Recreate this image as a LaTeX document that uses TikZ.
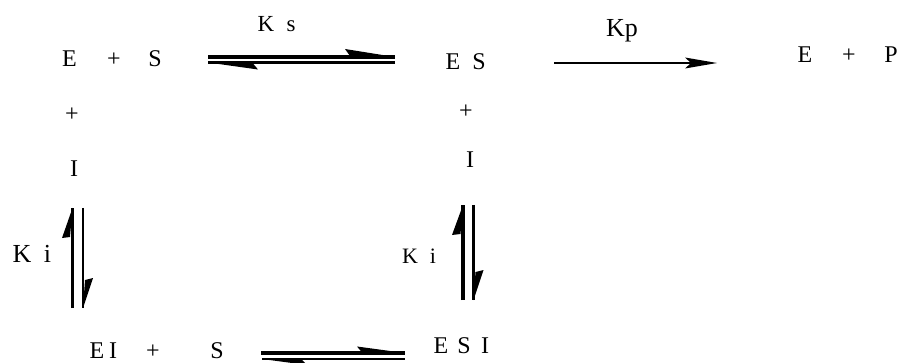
\documentclass[tikz,border=0pt]{standalone}
\usepackage{fontspec}
\setmainfont{Liberation Serif}
\usetikzlibrary{calc}
\begin{document}
\begin{tikzpicture}[x=1pt,y=-1pt,
  txt/.style={inner sep=0pt,anchor=base,font=\fontsize{24}{28}\selectfont},
  sz/.style={txt,font=\fontsize{#1}{#1}\selectfont},
  thick shaft/.style={line width=3.4pt},
  thin shaft/.style={line width=2.4pt}]
\useasboundingbox (0,0) rectangle (901,363);

% ---- species ----
\node[txt] (e1) at (69.5,67) {E};
\node[txt] (p1) at (114,67) {+};
\node[txt] (s1) at (155,67) {S};
\node[txt] (p2) at (72,122) {+};
\node[txt] (i1) at (74,177) {I};

\node[txt] (e2) at (453,70) {E};
\node[txt] (s2) at (479,70) {S};
\node[txt] (p3) at (466,119) {+};
\node[txt] (i2) at (470,168) {I};

\node[txt] (e3) at (805,63) {E};
\node[txt] (p4) at (849,63) {+};
\node[txt] (pp) at (891,63) {P};

\node[txt] (e4) at (97,358) {E};
\node[txt] (i3) at (113,358) {I};
\node[txt] (p5) at (153,358) {+};
\node[txt] (s3) at (217,358) {S};

\node[txt] (e5) at (441,353) {E};
\node[txt] (s4) at (464,353) {S};
\node[txt] (i4) at (485,353) {I};

% ---- rate constants ----
\node[sz=23] (ksK) at (266,32) {K};
\node[sz=23] (kss) at (291,32) {s};
\node[sz=26] (kp) at (622,37) {Kp};
\node[sz=26] (ki1K) at (22,262) {K};
\node[sz=26] (ki1i) at (47.5,262) {i};
\node[sz=22] (ki2K) at (410,263) {K};
\node[sz=22] (ki2i) at (433,263) {i};

% ---- E + S <=> ES ----
\coordinate (ksL) at (208,57);
\coordinate (ksR) at (395,57);
\draw[thick shaft] (ksL) -- (ksR);
\fill (ksR) -- ++(-50,-8) -- ++(5,7) -- cycle;
\coordinate (ksL2) at (208,62.5);
\coordinate (ksR2) at (395,62.5);
\draw[thin shaft] (ksL2) -- (ksR2);
\fill (ksL2) -- ++(50,7) -- ++(-5,-6) -- cycle;

% ---- ES -> E + P ----
\coordinate (kpL) at (554,63);
\coordinate (kpR) at (717,63);
\draw[thin shaft] (kpL) -- ($(kpR)+(-20,0)$);
\fill (kpR) -- ++(-32,-5.5) -- ++(6,5.5) -- ++(-6,5.5) -- cycle;

% ---- E + I <=> EI ----
\coordinate (ki1T) at (72.5,208);
\coordinate (ki1B) at (72.5,308);
\draw[thick shaft] (ki1B) -- (ki1T);
\fill (ki1T) -- ++(-10.5,30) -- ++(8,-1) -- cycle;
\coordinate (ki1T2) at (83,208);
\coordinate (ki1B2) at (83,308);
\draw[thin shaft] (ki1T2) -- (ki1B2);
\fill (ki1B2) -- ++(10,-30) -- ++(-8,2) -- cycle;

% ---- ES + I <=> ESI ----
\coordinate (ki2T) at (463,205);
\coordinate (ki2B) at (463,300);
\draw[thick shaft] (ki2B) -- (ki2T);
\fill (ki2T) -- ++(-11,30) -- ++(8.5,-1) -- cycle;
\coordinate (ki2T2) at (473.5,205);
\coordinate (ki2B2) at (473.5,300);
\draw[thin shaft] (ki2T2) -- (ki2B2);
\fill (ki2B2) -- ++(10,-30) -- ++(-8,2) -- cycle;

% ---- EI + S <=> ESI ----
\coordinate (bL) at (261,353);
\coordinate (bR) at (405,353);
\draw[thick shaft] (bL) -- (bR);
\fill (bR) -- ++(-48,-6.5) -- ++(5,6) -- cycle;
\coordinate (bL2) at (262,359);
\coordinate (bR2) at (405,359);
\draw[thin shaft] (bL2) -- (bR2);
\fill (bL2) -- ++(45,6) -- ++(-5,-5) -- cycle;
\end{tikzpicture}
\end{document}
